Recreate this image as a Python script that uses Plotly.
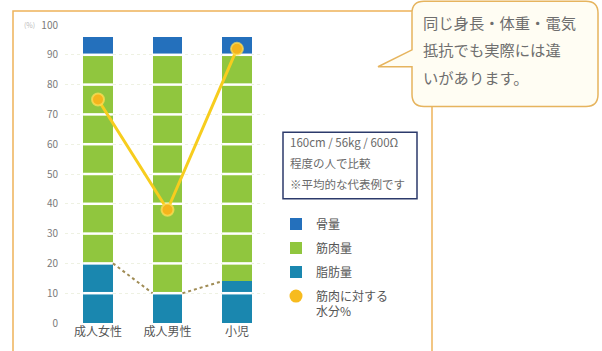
import plotly.graph_objects as go

# --- data -------------------------------------------------------------
categories = ["成人女性", "成人男性", "小児"]
fat = [20, 10, 14]          # 脂肪量
muscle = [70, 80, 76]       # 筋肉量
bone = [6, 6, 6]            # 骨量
water = [75, 38, 92]        # 筋肉に対する水分%
y_ticks = [0, 10, 20, 30, 40, 50, 60, 70, 80, 90, 100]

legend_names = ["骨量", "筋肉量", "脂肪量", "筋肉に対する<br>水分%"]
note_lines = ["160cm / 56kg / 600Ω", "程度の人で比較", "※平均的な代表例です"]
bubble_lines = ["同じ身長・体重・電気", "抵抗でも実際には違", "いがあります。"]

# --- style ------------------------------------------------------------
FONT = "Noto Sans CJK JP"
C_BONE = "#2470bc"
C_MUSCLE = "#90c63e"
C_FAT = "#1a87af"
C_WATER = "#f7cd1e"
C_FRAME = "#eeb35a"

W, H = 602, 351
PL, PR, PT, PB = 65, 265, 25, 325       # plot area in pixels
BAR_W = 0.43
X_RANGE = [-0.475, 2.403]

def px(x):
    return (x - PL) / (PR - PL)

def py(y):
    return (PB - y) / (PB - PT)

xs = list(range(len(categories)))

fig = go.Figure()

fig.add_trace(go.Bar(x=xs, y=fat, name=legend_names[2], marker_color=C_FAT,
                     width=BAR_W, legendrank=3, legendgroup="fat", marker_line_width=0))
fig.add_trace(go.Bar(x=xs, y=muscle, name=legend_names[1], marker_color=C_MUSCLE,
                     width=BAR_W, legendrank=2, legendgroup="muscle", marker_line_width=0))
fig.add_trace(go.Bar(x=xs, y=bone, name=legend_names[0], marker_color=C_BONE,
                     width=BAR_W, legendrank=1, legendgroup="bone", marker_line_width=0))

# white grid lines running across the bars
gx, gy = [], []
for i in xs:
    top = fat[i] + muscle[i] + bone[i]
    for t in y_ticks[1:]:
        if t < top:
            gx += [i - BAR_W / 2, i + BAR_W / 2, None]
            gy += [t, t, None]
fig.add_trace(go.Scatter(x=gx, y=gy, mode="lines", line=dict(color="white", width=2.5),
                         showlegend=False, hoverinfo="skip"))

# dotted link between fat levels
hw = BAR_W / 2
fig.add_trace(go.Scatter(
    x=[xs[0] + hw, xs[1] - hw, None, xs[1] + hw, xs[2] - hw],
    y=[fat[0], fat[1], None, fat[1], fat[2]],
    mode="lines", line=dict(color="#a08c55", width=2, dash="dot"),
    showlegend=False, hoverinfo="skip"))

# water ratio line
fig.add_trace(go.Scatter(
    x=xs, y=water, mode="lines+markers",
    line=dict(color=C_WATER, width=3),
    marker=dict(size=12, color="#f5b41c", line=dict(color="rgba(255,225,90,0.7)", width=2)),
    showlegend=False))
fig.add_trace(go.Scatter(
    x=[None], y=[None], mode="markers", name=legend_names[3], legendgroup="water",
    marker=dict(size=13, color="#f7bb1e"), legendrank=4))

shapes = []
# frame
shapes.append(dict(type="path", xref="paper", yref="paper",
                   path=f"M {px(13)} {py(360)} L {px(13)} {py(11)} L {px(412)} {py(11)}",
                   line=dict(color=C_FRAME, width=1.5)))
shapes.append(dict(type="line", xref="paper", yref="paper",
                   x0=px(432), x1=px(432), y0=py(107), y1=py(360),
                   line=dict(color=C_FRAME, width=1.5)))

# speech bubble
L, R, T, B, r = 412, 598, 1, 107, 12
bubble = (
    f"M {px(378)} {py(67)} L {px(L)} {py(50)} L {px(L)} {py(T + r)} "
    f"Q {px(L)} {py(T)} {px(L + r)} {py(T)} L {px(R - r)} {py(T)} "
    f"Q {px(R)} {py(T)} {px(R)} {py(T + r)} L {px(R)} {py(B - r)} "
    f"Q {px(R)} {py(B)} {px(R - r)} {py(B)} L {px(L + r)} {py(B)} "
    f"Q {px(L)} {py(B)} {px(L)} {py(B - r)} L {px(L)} {py(67)} Z"
)
shapes.append(dict(type="path", xref="paper", yref="paper", path=bubble,
                   fillcolor="#fffdf3", line=dict(color="#e6b45e", width=1.5)))

# note box
shapes.append(dict(type="rect", xref="paper", yref="paper",
                   x0=px(283), x1=px(417), y0=py(133), y1=py(200),
                   line=dict(color="#2c3a6b", width=1.5), fillcolor="white"))

annotations = []
for k, line in enumerate(bubble_lines):
    annotations.append(dict(xref="paper", yref="paper", x=px(421), y=py(22 + 27.5 * k),
                            text=line, showarrow=False, xanchor="left", yanchor="middle",
                            font=dict(family=FONT, size=15.3, color="#6e6e6e")))
for k, line in enumerate(note_lines):
    annotations.append(dict(xref="paper", yref="paper", x=px(288), y=py(143 + 21 * k),
                            text=line, showarrow=False, xanchor="left", yanchor="middle",
                            font=dict(family=FONT, size=11.5, color="#6a6a6a")))
annotations.append(dict(xref="paper", yref="paper", x=px(22), y=py(25), text="(%)",
                        showarrow=False, xanchor="left", yanchor="middle",
                        font=dict(family=FONT, size=7, color="#bbbbbb")))

fig.update_layout(
    width=W, height=H,
    margin=dict(l=PL, r=W - PR, t=PT, b=H - PB, pad=0),
    barmode="stack",
    paper_bgcolor="white", plot_bgcolor="white",
    font=dict(family=FONT),
    shapes=shapes, annotations=annotations,
    legend=dict(x=px(276), y=py(211), xanchor="left", yanchor="top",
                xref="paper", yref="paper",
                font=dict(family=FONT, size=12, color="#555555"),
                tracegroupgap=5, traceorder="grouped", valign="top",
                bgcolor="rgba(0,0,0,0)", itemwidth=30),
    xaxis=dict(range=X_RANGE, tickvals=xs, ticktext=categories, showgrid=False,
               zeroline=False, showline=False, ticks="",
               tickfont=dict(family=FONT, size=12, color="#555555")),
    yaxis=dict(range=[0, 100], tickvals=y_ticks, showgrid=True,
               gridcolor="#eef1e2", griddash="dot", gridwidth=1,
               zeroline=False, showline=False, ticks="", ticklabelstandoff=6,
               tickfont=dict(family=FONT, size=10, color="#7a7a7a")),
)

fig.write_html("out.html")
